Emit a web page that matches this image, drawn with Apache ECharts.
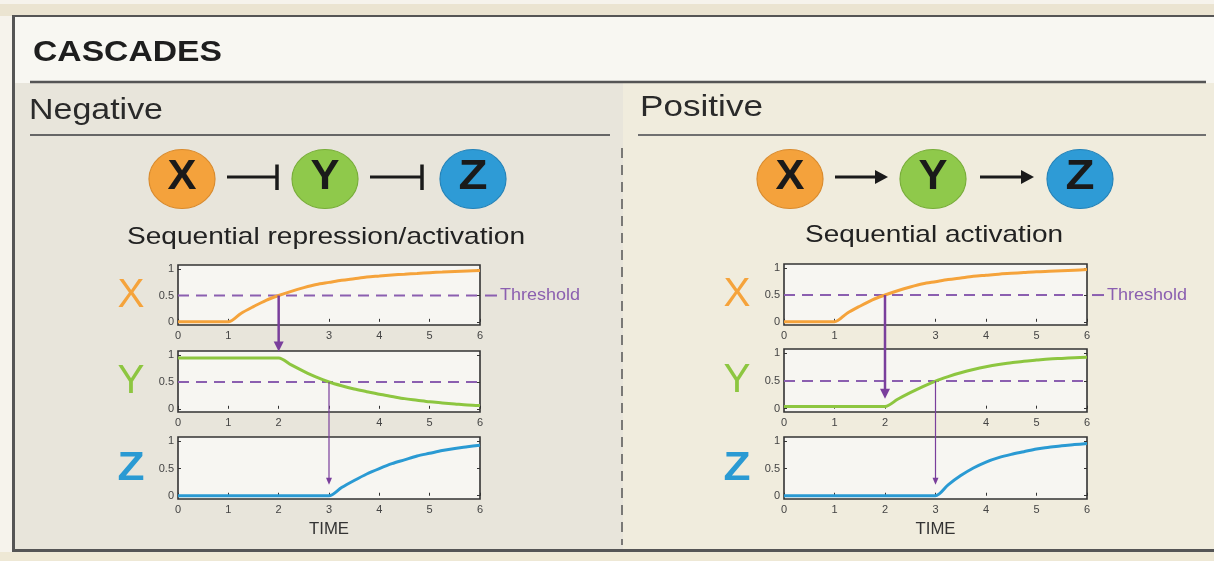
<!DOCTYPE html>
<html><head><meta charset="utf-8">
<script src="https://cdn.jsdelivr.net/npm/echarts@6/dist/echarts.min.js"></script>
<style>html,body{margin:0;padding:0;background:#f6f3ec;}#c{width:1214px;height:561px;}</style>
</head><body><div id="c"></div>
<script>
// ---------- DATA ----------
const time = [0,0.25,0.5,0.75,1,1.25,1.5,1.75,2,2.25,2.5,2.75,3,3.25,3.5,3.75,4,4.25,4.5,4.75,5,5.25,5.5,5.75,6];
const negX = [0,0,0,0,0,0.16,0.29,0.41,0.5,0.58,0.65,0.71,0.75,0.79,0.82,0.85,0.87,0.89,0.905,0.92,0.935,0.945,0.955,0.965,0.975];
const negY = [0.95,0.95,0.95,0.95,0.95,0.95,0.95,0.95,0.95,0.82,0.7,0.59,0.5,0.43,0.37,0.32,0.27,0.23,0.19,0.16,0.13,0.11,0.09,0.07,0.06];
const negZ = [0,0,0,0,0,0,0,0,0,0,0,0,0,0.15,0.28,0.4,0.5,0.59,0.66,0.73,0.78,0.83,0.87,0.9,0.93];
const posX = [0,0,0,0,0,0.16,0.29,0.41,0.5,0.58,0.65,0.71,0.75,0.79,0.82,0.85,0.87,0.89,0.905,0.92,0.935,0.945,0.955,0.965,0.975];
const posY = [0.04,0.04,0.04,0.04,0.04,0.04,0.04,0.04,0.04,0.17,0.29,0.4,0.5,0.58,0.65,0.71,0.76,0.8,0.83,0.86,0.88,0.9,0.91,0.92,0.93];
const posZ = [0,0,0,0,0,0,0,0,0,0,0,0,0,0.2,0.37,0.51,0.62,0.7,0.76,0.81,0.86,0.89,0.92,0.94,0.96];
const threshold = [0.5];
const yTicks = [0, 0.5, 1];
const xTicks = [0,1,2,3,4,5,6];
const plotNames = ['X','Y','Z'];
const panelTitles = ['Negative','Positive'];
const panelCaptions = ['Sequential repression/activation','Sequential activation'];
// arrows: [fromPlot, toPlot, time, fromValue, toValue]
const arrowsNeg = [[0,1,2,0.5,1.07],[1,2,3,0.5,0.2]];
const arrowsPos = [[0,1,2,0.5,0.18],[1,2,3,0.5,0.2]];

// ---------- STYLE ----------
const FONT = "'Liberation Sans', Arial, Helvetica, sans-serif";
const COL = {X:'#f5a33b', Y:'#8dc640', Z:'#2a9ad3', purple:'#8b5fb0', arrow:'#7a3f9c'};
const circleCol = {X:'#f4a23c', Y:'#8fc94b', Z:'#2e9bd6'};
const circleEdge = {X:'#d98a2c', Y:'#77ad38', Z:'#2382b8'};
const panels = [
  {left:178, width:302, tops:[265,351,437], heights:[60,61,62]},
  {left:784, width:303, tops:[264,349,437], heights:[61,63,62]}
];
const seriesData = [[negX,negY,negZ],[posX,posY,posZ]];
const hideLabel = [2,3,null]; // hidden x tick label per plot row (covered by arrows)

const chart = echarts.init(document.getElementById('c'), null, {renderer:'canvas'});
const grids=[], xAxes=[], yAxes=[], yAxesRight=[], series=[];
panels.forEach((p, pi) => {
  for (let r=0;r<3;r++){
    const gi = pi*3+r;
    grids.push({left:p.left, top:p.tops[r], width:p.width, height:p.heights[r], show:true,
      backgroundColor:'#f7f6f2', borderColor:'#333', borderWidth:1.6});
    xAxes.push({type:'value', gridIndex:gi, min:0, max:6, interval:1,
      axisLine:{show:false}, splitLine:{show:false},
      axisTick:{show:true, inside:true, length:3, lineStyle:{color:'#333'}},
      axisLabel:{fontSize:11, color:'#444', margin:5, fontFamily:FONT,
        formatter: v => (v===hideLabel[r] ? '' : String(v))}});
    yAxes.push({type:'value', gridIndex:gi, min:-0.06, max:1.08,
      axisLine:{show:false}, splitLine:{show:false},
      axisTick:{show:true, inside:true, length:3, customValues:yTicks, lineStyle:{color:'#333'}},
      axisLabel:{fontSize:11, color:'#444', margin:4, fontFamily:FONT, customValues:yTicks,
        formatter: v => String(v)}});
    yAxesRight.push({type:'value', gridIndex:gi, position:'right', min:-0.06, max:1.08,
      axisLine:{show:false}, splitLine:{show:false},
      axisTick:{show:true, inside:true, length:3, customValues:yTicks, lineStyle:{color:'#333'}},
      axisLabel:{show:false, customValues:yTicks}});
    if (r < 2) {
      series.push({type:'line', xAxisIndex:gi, yAxisIndex:gi, showSymbol:false, silent:true,
        data:[[xTicks[0],threshold[0]],[xTicks[xTicks.length-1],threshold[0]]],
        lineStyle:{color:COL.purple, width:2, type:[11,7]}, z:2});
    }
    const vals = seriesData[pi][r];
    series.push({type:'line', xAxisIndex:gi, yAxisIndex:gi, showSymbol:false, silent:true,
      smooth:0.3,
      data: time.map((t,i)=>[t, vals[i]]),
      lineStyle:{color:COL[plotNames[r]], width:3}, z:3});
  }
});

chart.setOption({animation:false, grid:grids, xAxis:xAxes, yAxis:yAxes.concat(yAxesRight), series:series});

// ---------- GRAPHIC (positions through the chart's scales where data-based) ----------
const mctx = document.createElement('canvas').getContext('2d');
function fit(text, font, target){ mctx.font = font; return target / mctx.measureText(text).width; }
function txt(text, x, y, size, weight, color, target, align){
  const font = `${weight} ${size}px ${FONT}`;
  const sx = target ? fit(text, font, target) : 1;
  return {type:'text', x:x, y:y, scaleX:sx, z:60,
    style:{text:text, x:0, y:0, font:font, fill:color, align:align||'left', verticalAlign:'middle'}};
}
function line(x1,y1,x2,y2,color,w,dash,z){
  return {type:'line', z:z===undefined?5:z, shape:{x1,y1,x2,y2},
    style:{stroke:color, lineWidth:w, lineDash:dash||null}};
}
function rect(x,y,w,h,fill){ return {type:'rect', z:-20, shape:{x,y,width:w,height:h}, style:{fill}}; }
const P = (g, x, y) => chart.convertToPixel({xAxisIndex:g, yAxisIndex:g}, [x, y]);

const G = [];
// backgrounds & frame
G.push(rect(0,0,1214,561,'#f6f3ec'));
G.push(rect(0,4,1214,12,'#ebe4d1'));
G.push(rect(13,16,1201,67,'#f8f7f2'));
G.push(rect(13,83,610,468,'#e8e5db'));
G.push(rect(623,83,591,468,'#f0ecdd'));
G.push(rect(0,552,1214,9,'#eee8d5'));
G.push(line(12,16,1214,16,'#555',2,null,1));
G.push(line(13.5,15,13.5,552,'#555',3,null,1));
G.push(line(12,550.5,1214,550.5,'#555',3,null,1));
G.push(line(30,82,1206,82,'#555',2.5,null,1));
G.push(line(30,135,610,135,'#666',2,null,1));
G.push(line(638,135,1206,135,'#707070',2,null,1));
G.push(line(622,148,622,545,'#555',1.5,[10,7],1));

// titles
G.push(txt('CASCADES', 33, 52.5, 29, 'bold', '#1e1e1e', 189));
G.push(txt(panelTitles[0], 29, 110.5, 29, 'normal', '#2a2a2a', 134));
G.push(txt(panelTitles[1], 640, 107.5, 29, 'normal', '#2a2a2a', 123));
G.push(txt(panelCaptions[0], 127, 237.5, 24, 'normal', '#222', 398));
G.push(txt(panelCaptions[1], 805, 235.5, 24, 'normal', '#222', 258));

// node diagrams
const nodeCenters = [[182,325,473],[790,933,1080]];
const nodeY = 179;
nodeCenters.forEach((xs, pi) => {
  xs.forEach((cx, i) => {
    const n = plotNames[i];
    G.push({type:'circle', x:cx, y:nodeY, scaleX:1.12, z:10, shape:{cx:0,cy:0,r:29.5},
      style:{fill:circleCol[n], stroke:circleEdge[n], lineWidth:1}});
    G.push(txt(n, cx, nodeY-1.5, 42, 'bold', '#1a1a1a', 29, 'center'));
  });
});
// connectors
[[227,277],[370,422]].forEach(([a,b]) => {
  G.push(line(a,177,b,177,'#1a1a1a',3,null,10));
  G.push(line(b,164.5,b,190,'#1a1a1a',3.5,null,10));
});
[[835,888],[980,1034]].forEach(([a,b]) => {
  G.push(line(a,177,b-10,177,'#1a1a1a',3,null,10));
  G.push({type:'polygon', z:10, shape:{points:[[b,177],[b-13,170],[b-13,184]]}, style:{fill:'#1a1a1a'}});
});

// per-panel plot decorations
[arrowsNeg, arrowsPos].forEach((arrows, pi) => {
  const base = pi*3;
  // big letters
  for (let r=0;r<3;r++){
    const [lx, ly] = P(base+r, 0, threshold[0]);
    G.push(txt(plotNames[r], lx-47, ly, 40, r===2?'bold':'normal', COL[plotNames[r]], 27, 'center'));
  }
  // threshold extension + label
  const [tx, ty] = P(base, 6, threshold[0]);
  G.push(line(tx+5, ty, tx+17, ty, COL.purple, 2, null, 20));
  G.push(txt('Threshold', tx+20, ty, 17, 'normal', COL.purple, 80));
  // TIME
  const [timeX, ] = P(base+2, 3, 0);
  G.push(txt('TIME', timeX, 530, 16, 'normal', '#333', 40, 'center'));
  // arrows
  arrows.forEach(([fg, tg, t, fv, tv], k) => {
    const [x1, y1] = P(base+fg, t, fv);
    const [x2, y2] = P(base+tg, t, tv);
    const w = k===0 ? 2.5 : 1.2;
    const hl = k===0 ? 10 : 7, hw = k===0 ? 5 : 3;
    G.push(line(x1, y1, x2, y2-hl+1, COL.arrow, w, null, 30));
    G.push({type:'polygon', z:30, shape:{points:[[x2,y2],[x2-hw,y2-hl],[x2+hw,y2-hl]]}, style:{fill:COL.arrow}});
  });
});

chart.setOption({graphic: {elements: G}});
</script></body></html>
